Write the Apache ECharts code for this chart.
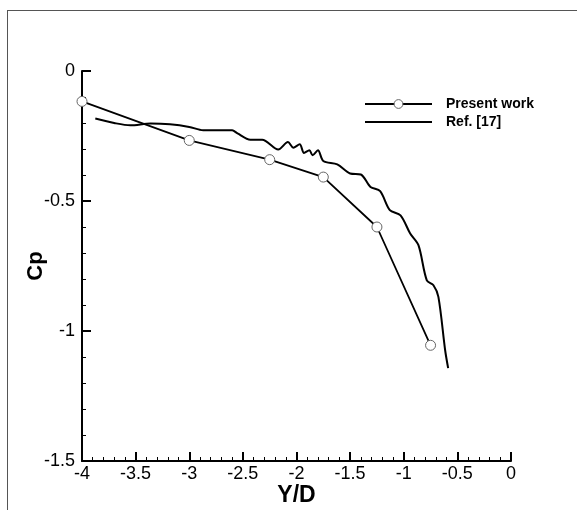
<!DOCTYPE html>
<html>
<head>
<meta charset="utf-8">
<script src="https://cdn.jsdelivr.net/npm/echarts@6/dist/echarts.min.js"></script>
<style>
  html, body { margin: 0; padding: 0; background: #fff; }
  #chart { width: 577px; height: 510px; }
</style>
</head>
<body>
<div id="chart"></div>
<script>
// Pressure coefficient along Y/D
const presentWork = [
  [-4.00, -0.117],
  [-3.00, -0.267],
  [-2.25, -0.341],
  [-1.75, -0.408],
  [-1.25, -0.600],
  [-0.75, -1.055]
];

const ref17 = [
  [-3.876, -0.183], [-3.70, -0.200], [-3.55, -0.209], [-3.36, -0.202],
  [-3.18, -0.205], [-3.00, -0.215], [-2.87, -0.228], [-2.60, -0.228],
  [-2.55, -0.240], [-2.43, -0.264], [-2.32, -0.264], [-2.17, -0.302],
  [-2.08, -0.273], [-2.03, -0.295], [-1.97, -0.282], [-1.93, -0.315],
  [-1.88, -0.305], [-1.85, -0.324], [-1.80, -0.305], [-1.75, -0.346],
  [-1.62, -0.359], [-1.50, -0.394], [-1.40, -0.398], [-1.31, -0.446],
  [-1.22, -0.462], [-1.13, -0.535], [-1.03, -0.555], [-0.94, -0.625],
  [-0.863, -0.670], [-0.785, -0.805], [-0.723, -0.824], [-0.677, -0.869],
  [-0.614, -1.074], [-0.586, -1.143]
];

const xTicks = { min: -4, max: 0, interval: 0.5 };
const yTicks = { min: -1.5, max: 0, interval: 0.5 };

const FONT = '"Liberation Sans", Arial, sans-serif';

const chart = echarts.init(document.getElementById('chart'));

const axisCommon = {
  axisLine: { show: true, onZero: false, lineStyle: { color: '#000', width: 2 } },
  axisTick: { show: true, inside: true, length: 9, lineStyle: { color: '#000', width: 2 } },
  minorTick: { show: true, splitNumber: 5, length: 4, lineStyle: { color: '#000', width: 1 } },
  splitLine: { show: false },
  axisLabel: { color: '#000', fontSize: 18, fontFamily: FONT },
  nameTextStyle: { color: '#000', fontWeight: 'bold', fontFamily: FONT },
  nameMoveOverlap: false
};

chart.setOption({
  backgroundColor: '#fff',
  animation: false,
  grid: { left: 82, right: 66, top: 71, bottom: 49, containLabel: false, outerBoundsMode: 'none' },
  xAxis: Object.assign({}, axisCommon, {
    type: 'value',
    min: xTicks.min, max: xTicks.max, interval: xTicks.interval,
    name: 'Y/D', nameLocation: 'middle', nameGap: 23,
    nameTextStyle: Object.assign({}, axisCommon.nameTextStyle, { fontSize: 23 }),
    axisLabel: Object.assign({}, axisCommon.axisLabel, { margin: 4 })
  }),
  yAxis: Object.assign({}, axisCommon, {
    type: 'value',
    min: yTicks.min, max: yTicks.max, interval: yTicks.interval,
    name: 'Cp', nameLocation: 'middle', nameGap: 35,
    nameTextStyle: Object.assign({}, axisCommon.nameTextStyle, { fontSize: 22 }),
    axisLabel: Object.assign({}, axisCommon.axisLabel, { margin: 7 })
  }),
  legend: {
    orient: 'vertical',
    left: 364, top: 97, padding: 0,
    itemWidth: 67, itemHeight: 11, itemGap: 4,
    textStyle: { color: '#000', fontSize: 14, fontWeight: 'bold', fontFamily: FONT, padding: [0, 0, 0, 9] },
    data: [
      { name: 'Present work', itemStyle: { color: '#fff', borderColor: '#666', borderWidth: 1 } },
      { name: 'Ref. [17]', itemStyle: { opacity: 0 } }
    ]
  },
  graphic: [
    { type: 'line', shape: { x1: 7, y1: 10.5, x2: 577, y2: 10.5 }, style: { stroke: '#555', lineWidth: 1 } },
    { type: 'line', shape: { x1: 7.5, y1: 10, x2: 7.5, y2: 510 }, style: { stroke: '#555', lineWidth: 1 } }
  ],
  series: [
    {
      name: 'Present work',
      type: 'line',
      data: presentWork,
      symbol: 'circle',
      symbolSize: 10,
      showSymbol: true,
      lineStyle: { color: '#000', width: 1.8 },
      itemStyle: { color: '#fff', borderColor: '#666', borderWidth: 1 },
      z: 3
    },
    {
      name: 'Ref. [17]',
      type: 'line',
      data: ref17,
      symbol: 'none',
      smooth: 0.3,
      lineStyle: { color: '#000', width: 2 },
      itemStyle: { color: '#000' },
      z: 2
    }
  ]
});
</script>
</body>
</html>
